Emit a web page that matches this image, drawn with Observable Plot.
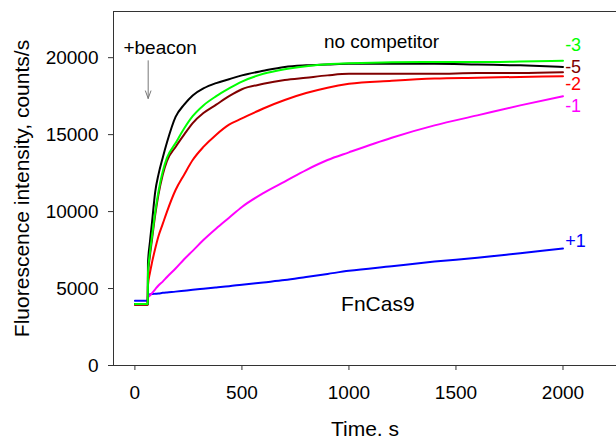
<!DOCTYPE html>
<html><head><meta charset="utf-8">
<script src="https://cdn.jsdelivr.net/npm/d3@7"></script>
<script src="https://cdn.jsdelivr.net/npm/@observablehq/plot@0.6"></script>
<style>body{margin:0;background:#fff}</style>
</head><body><div id="chart"></div>
<script>
// Time points (s)
const time = [0, 30, 60, 61, 70, 80, 95, 110, 130, 150, 190, 230, 270, 320, 380, 440, 500, 600, 700, 800, 900, 1000, 1200, 1400, 1600, 1800, 2000];
// Fluorescence intensity (counts/s)
const noCompetitor = [4000, 4000, 4000, 6600, 8000, 9300, 11300, 12400, 13500, 14500, 16150, 16950, 17550, 18000, 18350, 18600, 18850, 19150, 19400, 19500, 19550, 19600, 19600, 19600, 19550, 19500, 19400];
const m3 = [4000, 4000, 4000, 6000, 7300, 8400, 10000, 11300, 12600, 13500, 14450, 15400, 16200, 16900, 17500, 18000, 18450, 18950, 19250, 19450, 19580, 19630, 19700, 19720, 19720, 19750, 19800];
const m5 = [3950, 3950, 3950, 5800, 7100, 8200, 9800, 11100, 12400, 13300, 14200, 15000, 15750, 16400, 16950, 17500, 17950, 18300, 18550, 18700, 18850, 18950, 18950, 18950, 19000, 19000, 19050];
const m2 = [3950, 3950, 3950, 5200, 6000, 6700, 7600, 8400, 9200, 10000, 11400, 12400, 13350, 14200, 15000, 15650, 16050, 16700, 17250, 17700, 18050, 18300, 18500, 18650, 18700, 18750, 18800];
const m1 = [4000, 4000, 4000, 4400, 4550, 4700, 4950, 5200, 5450, 5750, 6300, 6900, 7450, 8150, 8900, 9600, 10300, 11200, 11950, 12700, 13350, 13850, 14800, 15600, 16250, 16900, 17500];
const p1 = [4200, 4200, 4200, 4600, 4620, 4640, 4660, 4680, 4720, 4750, 4800, 4860, 4920, 4990, 5070, 5150, 5250, 5400, 5550, 5750, 5950, 6150, 6450, 6750, 7000, 7300, 7600];

const seriesNames = ["+1", "-1", "-2", "-5", "no competitor", "-3"];
const seriesValues = [p1, m1, m2, m5, noCompetitor, m3];
const seriesColors = ["#0000ff", "#ff00ff", "#ff0000", "#800000", "#000000", "#00ff00"];

// End labels
const endLabels = ["-3", "-5", "-2", "-1", "+1"];
const endLabelY = [20800, 19400, 18250, 16850, 8050];
const endLabelColors = ["#00ff00", "#800000", "#ff0000", "#ff00ff", "#0000ff"];
const endLabelX = 2010;

// Annotations
const annotations = [
  {text: "+beacon", t: 118, v: 20620, size: 19},
  {text: "no competitor", t: 1152, v: 21010, size: 19},
  {text: "FnCas9", t: 1135, v: 3980, size: 21}
];
const arrowT = 62, arrowFrom = 19800, arrowTo = 17350;

const xTicks = [0, 500, 1000, 1500, 2000];
const yTicks = [0, 5000, 10000, 15000, 20000];
const xDomain = [-100, 2250];
const yDomain = [0, 23000];

const font = "'Liberation Sans', Arial, sans-serif";

const lineMarks = seriesNames.map((name, k) =>
  Plot.line(time.map((t, i) => ({t, v: seriesValues[k][i]})), {x: "t", y: "v", stroke: seriesColors[k], strokeWidth: 2, curve: "monotone-x"})
);

const endData = endLabels.map((l, i) => ({l, y: endLabelY[i], c: endLabelColors[i]}));

const chart = Plot.plot({
  width: 616,
  height: 436,
  marginLeft: 113,
  marginRight: 0,
  marginTop: 11,
  marginBottom: 71,
  style: {fontFamily: font, fontSize: "19px", color: "#000", background: "#fff"},
  x: {domain: xDomain, label: null},
  y: {domain: yDomain, label: null},
  marks: [
    Plot.axisX({ticks: xTicks, tickSize: 5, tickPadding: 15, tickFormat: d => String(d), label: null, fontSize: 19, stroke: "#333"}),
    Plot.axisY({ticks: yTicks, tickSize: 5, tickPadding: 10, tickFormat: d => String(d), label: null, fontSize: 19, stroke: "#333"}),
    Plot.ruleX([xDomain[0]], {stroke: "#333"}),
    Plot.ruleY([yDomain[0], yDomain[1]], {stroke: "#333"}),
    ...lineMarks,
    Plot.arrow([{t: arrowT, a: arrowFrom, b: arrowTo}], {x: "t", y1: "a", y2: "b", stroke: "#777", strokeWidth: 1, headLength: 12, headAngle: 40}),
    Plot.text(annotations, {x: "t", y: "v", text: "text", fontSize: d => d.size, fill: "#000"}),
    Plot.text(endData, {x: () => endLabelX, y: "y", text: "l", fill: "c", textAnchor: "start", fontSize: 18}),
    Plot.text(["Fluorescence intensity, counts/s"], {frameAnchor: "left", dx: -91, rotate: -90, textAnchor: "middle", lineAnchor: "middle", fontSize: 21, fill: "#000"}),
    Plot.text(["Time, s"], {frameAnchor: "bottom", dy: 64, textAnchor: "middle", lineAnchor: "middle", fontSize: 21, fill: "#000"})
  ]
});
document.getElementById("chart").appendChild(chart);
</script>
</body></html>
